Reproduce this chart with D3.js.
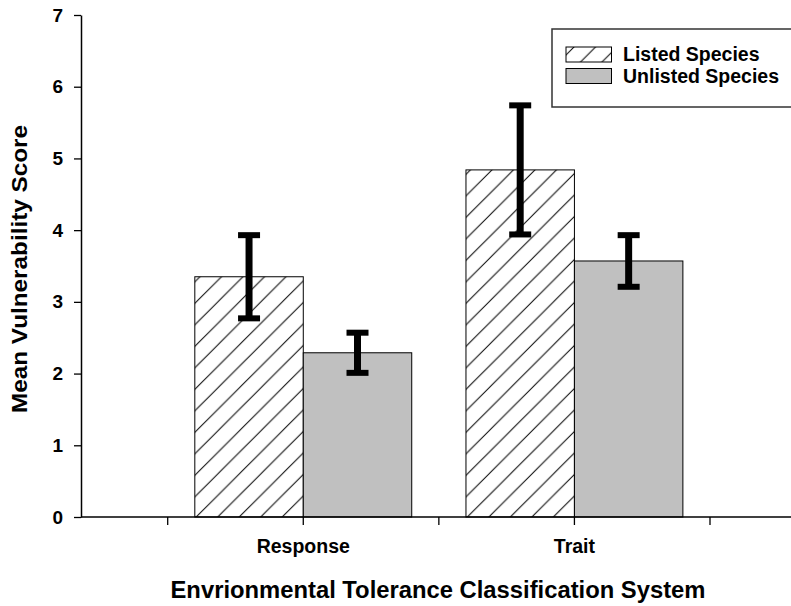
<!DOCTYPE html>
<html>
<head>
<meta charset="utf-8">
<script src="https://cdn.jsdelivr.net/npm/d3@7"></script>
<style>
  html, body { margin: 0; padding: 0; background: #fff; }
  svg { display: block; font-family: "Liberation Sans", Arial, sans-serif; font-weight: bold; }
</style>
</head>
<body>
<svg id="chart" width="791" height="606"></svg>
<script>
// Mean vulnerability scores by classification system, with error bars
const categories = ["Response", "Trait"];
const seriesNames = ["Listed Species", "Unlisted Species"];
const listedMeans = [3.35, 4.84];
const listedErrors = [0.58, 0.90];
const unlistedMeans = [2.29, 3.57];
const unlistedErrors = [0.28, 0.36];
const yTicks = [0, 1, 2, 3, 4, 5, 6, 7];

const rows = categories.map((c, i) => ({
  category: c,
  bars: [
    { series: seriesNames[0], mean: listedMeans[i], err: listedErrors[i] },
    { series: seriesNames[1], mean: unlistedMeans[i], err: unlistedErrors[i] }
  ]
}));

const svg = d3.select("#chart");
const axisLeftX = 81, axisRightX = 791;

const y = d3.scaleLinear().domain([0, 7]).range([517, 15]);
const x = d3.scaleBand().domain(categories).range([167.7, 710]).paddingInner(0).paddingOuter(0);
const xInner = d3.scaleBand().domain(seriesNames).range([0, x.bandwidth()]).paddingInner(0).paddingOuter(0.25);

// diagonal hatch for listed species
const defs = svg.append("defs");
const hatch = defs.append("pattern")
  .attr("id", "hatch")
  .attr("patternUnits", "userSpaceOnUse")
  .attr("width", 21.5).attr("height", 21.5)
  .attr("x", 8).attr("y", 0);
hatch.append("rect").attr("width", 21.5).attr("height", 21.5).attr("fill", "#fff");
hatch.append("path")
  .attr("d", "M-2,23.5 L23.5,-2 M-2,2 L2,-2 M19.5,23.5 L23.5,19.5")
  .attr("stroke", "#000").attr("stroke-width", 1);

const fills = { "Listed Species": "url(#hatch)", "Unlisted Species": "#c0c0c0" };

// bars
const groups = svg.append("g").selectAll("g")
  .data(rows).join("g")
  .attr("transform", d => `translate(${x(d.category)},0)`);

groups.selectAll("rect")
  .data(d => d.bars).join("rect")
  .attr("x", d => xInner(d.series))
  .attr("y", d => y(d.mean))
  .attr("width", xInner.bandwidth())
  .attr("height", d => y(0) - y(d.mean))
  .attr("fill", d => fills[d.series])
  .attr("stroke", "#000")
  .attr("stroke-width", 1);

// error bars
const eb = groups.selectAll("g.err")
  .data(d => d.bars).join("g").attr("class", "err")
  .attr("transform", d => `translate(${xInner(d.series) + xInner.bandwidth() / 2},0)`);
eb.append("line")
  .attr("x1", 0).attr("x2", 0)
  .attr("y1", d => y(d.mean + d.err)).attr("y2", d => y(d.mean - d.err))
  .attr("stroke", "#000").attr("stroke-width", 7);
eb.selectAll("line.cap")
  .data(d => [d.mean + d.err, d.mean - d.err]).join("line").attr("class", "cap")
  .attr("x1", -11).attr("x2", 11)
  .attr("y1", v => y(v)).attr("y2", v => y(v))
  .attr("stroke", "#000").attr("stroke-width", 6);

// y axis
const yAxis = svg.append("g")
  .attr("transform", `translate(${axisLeftX},0)`)
  .call(d3.axisLeft(y).tickValues(yTicks).tickFormat(d3.format("d")).tickSize(7).tickSizeOuter(0).tickPadding(11));
yAxis.select(".domain").attr("stroke", "#000").attr("stroke-width", 1.5);
yAxis.selectAll(".tick line").attr("stroke", "#000").attr("stroke-width", 1.3);
yAxis.selectAll(".tick text").attr("font-size", 19).attr("font-family", "Liberation Sans, Arial, sans-serif")
  .attr("font-weight", "bold").attr("fill", "#000");

// x axis: baseline spans the full width
svg.append("line")
  .attr("x1", axisLeftX).attr("x2", axisRightX)
  .attr("y1", y(0)).attr("y2", y(0))
  .attr("stroke", "#000").attr("stroke-width", 1.5);

const xAxis = svg.append("g")
  .attr("transform", `translate(0,${y(0)})`)
  .call(d3.axisBottom(x).tickSize(8).tickSizeOuter(0).tickPadding(14));
xAxis.select(".domain").remove();
xAxis.selectAll(".tick line").attr("stroke", "#000").attr("stroke-width", 1.3);
xAxis.selectAll(".tick text").attr("font-size", 19.5).attr("font-family", "Liberation Sans, Arial, sans-serif")
  .attr("font-weight", "bold").attr("fill", "#000");

// boundary ticks between categories
const boundaries = [x.range()[0], ...categories.map(c => x(c) + x.bandwidth())];
svg.append("g").selectAll("line")
  .data(boundaries).join("line")
  .attr("x1", d => d).attr("x2", d => d)
  .attr("y1", y(0)).attr("y2", y(0) + 8)
  .attr("stroke", "#000").attr("stroke-width", 1.3);

// axis titles
svg.append("text")
  .attr("x", 438).attr("y", 598)
  .attr("text-anchor", "middle")
  .attr("font-size", 23)
  .attr("textLength", 535)
  .attr("lengthAdjust", "spacingAndGlyphs")
  .text("Envrionmental Tolerance Classification System");

svg.append("text")
  .attr("transform", `translate(27,269) rotate(-90)`)
  .attr("text-anchor", "middle")
  .attr("font-size", 22)
  .attr("textLength", 288)
  .attr("lengthAdjust", "spacingAndGlyphs")
  .text("Mean Vulnerability Score");

// legend
const legend = svg.append("g").attr("transform", "translate(552,29)");
legend.append("rect")
  .attr("x", 0).attr("y", 0).attr("width", 240).attr("height", 78)
  .attr("fill", "#fff").attr("stroke", "#333").attr("stroke-width", 1.5);
const li = legend.selectAll("g.item")
  .data(seriesNames).join("g").attr("class", "item")
  .attr("transform", (d, i) => `translate(14,${18 + i * 21.5})`);
li.append("rect")
  .attr("width", 45.5).attr("height", 15)
  .attr("fill", d => fills[d])
  .attr("stroke", "#000").attr("stroke-width", 1);
li.append("text")
  .attr("x", 57).attr("y", 14)
  .attr("font-size", 19.5)
  .text(d => d);
</script>
</body>
</html>
